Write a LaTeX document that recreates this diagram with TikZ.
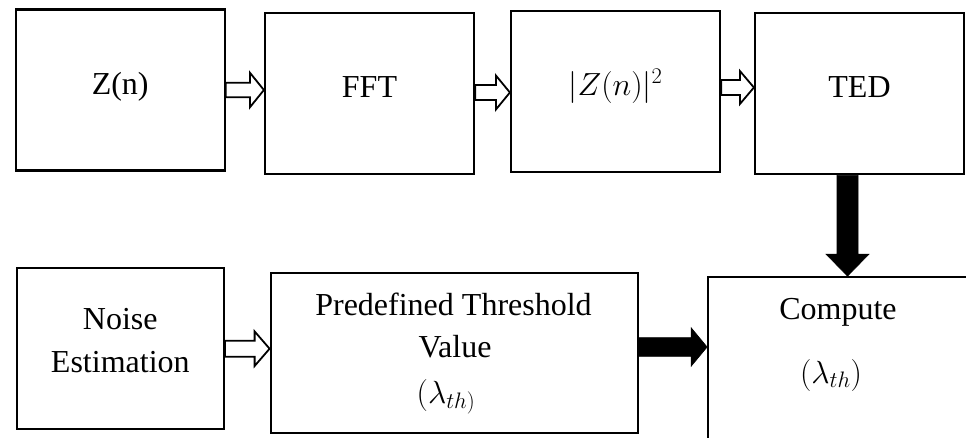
\RequirePackage{fix-cm}
\documentclass[tikz,border=0pt]{standalone}
\usepackage{fontspec}
\setmainfont{Liberation Serif}
\usetikzlibrary{calc}
\tikzset{
  box/.style={draw=black, line width=2.2pt, inner sep=0pt, font=\fontsize{32}{43}\selectfont},
  txt/.style={inner sep=0pt, anchor=base, font=\fontsize{32}{43}\selectfont},
  hollowarr/.style={draw=black, fill=white, line width=1.8pt, line join=miter},
  solidarr/.style={draw=black, fill=black, line width=0.6pt, line join=miter}
}
% horizontal block arrow: style, from, to, y, shaft half, head half, head length
\newcommand{\harr}[7]{%
  \draw[#1] (#2.east |- 0,{#4-#5}) -- ($(#3.west |- 0,{#4-#5})+(-#7,0)$)
    -- ($(#3.west |- 0,{#4-#6})+(-#7,0)$) -- (#3.west |- 0,#4)
    -- ($(#3.west |- 0,{#4+#6})+(-#7,0)$) -- ($(#3.west |- 0,{#4+#5})+(-#7,0)$)
    -- (#2.east |- 0,{#4+#5}) -- cycle;}
% vertical block arrow: style, from, to, x, shaft half, head half, head length
\newcommand{\varr}[7]{%
  \draw[#1] (#2.south -| {#4-#5},0) -- ($(#3.north -| {#4-#5},0)+(0,-#7)$)
    -- ($(#3.north -| {#4-#6},0)+(0,-#7)$) -- (#3.north -| #4,0)
    -- ($(#3.north -| {#4+#6},0)+(0,-#7)$) -- ($(#3.north -| {#4+#5},0)+(0,-#7)$)
    -- (#2.south -| {#4+#5},0) -- cycle;}
\begin{document}
\begin{tikzpicture}[x=1pt,y=-1pt]
\useasboundingbox (0,0) rectangle (966,437);
% top row
\node[box, minimum width=209pt, minimum height=161pt, text height=20pt, text depth=12pt] (zn) at (120.2,90) {Z(n)};
\node[box, minimum width=209pt, minimum height=161pt, text height=20pt, text depth=12pt] (fft) at (369.5,93.7) {FFT};
\node[box, minimum width=209pt, minimum height=161pt, text height=20pt, text depth=12pt] (sq) at (615.5,91.2) {$|Z(n)|^2$};
\node[box, minimum width=209pt, minimum height=161pt, text height=20pt, text depth=12pt] (ted) at (859.5,93.7) {TED};
% bottom row
\node[box, minimum width=207pt, minimum height=161pt] (noise) at (120.3,348.5) {};
\node[box, minimum width=367pt, minimum height=160pt] (pred) at (454.2,353) {};
\node[box, line width=1.8pt, minimum width=300pt, minimum height=200pt] (comp) at (858,377) {};
% texts of bottom row
\node[txt] (noiseA) at (120.3,329) {Noise};
\node[txt] (noiseB) at (120.3,372) {Estimation};
\node[txt] (predA) at (453.5,315) {Predefined Threshold};
\node[txt] (predB) at (455,357) {Value};
\node[txt] (predC) at (446,403) {$(\lambda_{th)}$};
\node[txt] (compA) at (838,319) {Compute};
\node[txt] (compB) at (831,383) {$(\lambda_{th})$};
% arrows
\harr{hollowarr}{zn}{fft}{90}{7.3}{17.3}{14}
\harr{hollowarr}{fft}{sq}{92.5}{7.5}{17}{14}
\harr{hollowarr}{sq}{ted}{87.5}{7.5}{16.5}{14}
\harr{hollowarr}{noise}{pred}{348.7}{8}{17.3}{15}
\harr{solidarr}{pred}{comp}{347}{9.3}{19.3}{16}
\varr{solidarr}{ted}{comp}{847.5}{10.5}{21.5}{22}
\end{tikzpicture}
\end{document}
